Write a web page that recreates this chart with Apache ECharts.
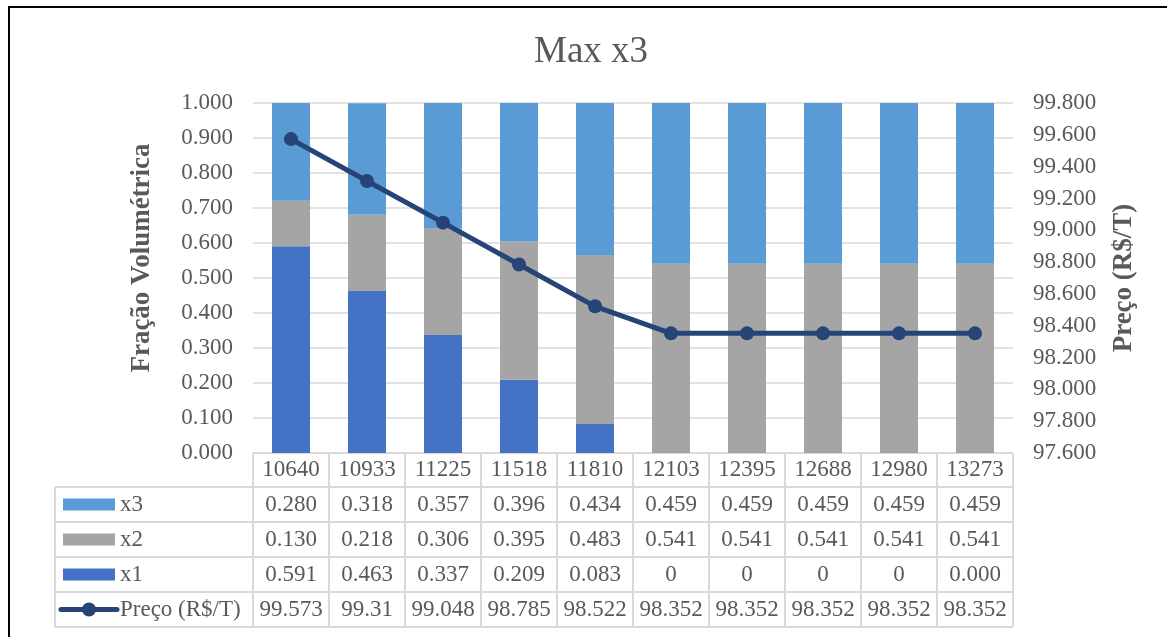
<!DOCTYPE html>
<html>
<head>
    <meta charset="utf-8">
    <title>Max x3</title>
    <script src="https://cdn.jsdelivr.net/npm/echarts@6/dist/echarts.min.js"></script>
    <style>
        html, body { margin: 0; padding: 0; background: #fff; }
        #main { width: 1167px; height: 637px; }
    </style>
</head>
<body>
<div id="main"></div>
<script type="text/javascript">
    // dados
    var categorias = ['10640', '10933', '11225', '11518', '11810', '12103', '12395', '12688', '12980', '13273'];
    var x1 = [0.591, 0.463, 0.337, 0.209, 0.083, 0, 0, 0, 0, 0];
    var x2 = [0.130, 0.218, 0.306, 0.395, 0.483, 0.541, 0.541, 0.541, 0.541, 0.541];
    var x3 = [0.280, 0.318, 0.357, 0.396, 0.434, 0.459, 0.459, 0.459, 0.459, 0.459];
    var preco = [99.573, 99.31, 99.048, 98.785, 98.522, 98.352, 98.352, 98.352, 98.352, 98.352];
    // textos da tabela como aparecem no Excel
    var x1Texto = ['0.591', '0.463', '0.337', '0.209', '0.083', '0', '0', '0', '0', '0.000'];

    var cores = { x1: '#4472C4', x2: '#A5A5A5', x3: '#5B9BD5', preco: '#264478' };
    var fonte = '"Liberation Serif", "Times New Roman", serif';
    var cinzaTexto = '#595959';
    var cinzaLinha = '#D9D9D9';

    var myChart = echarts.init(document.getElementById('main'));

    var gridLeft = 253, gridTop = 103, gridW = 760, gridH = 350;

    var option = {
        animation: false,
        title: {
            text: 'Max x3',
            left: 529,
            top: 29,
            textStyle: { fontFamily: fonte, fontSize: 37, fontWeight: 'normal', color: cinzaTexto }
        },
        grid: { left: gridLeft, top: gridTop, width: gridW, height: gridH },
        xAxis: {
            type: 'category',
            data: categorias,
            axisLabel: { show: false },
            axisTick: { show: false },
            axisLine: { show: false }
        },
        yAxis: [{
            type: 'value',
            min: 0,
            max: 1,
            interval: 0.1,
            axisLabel: {
                margin: 20,
                fontFamily: fonte, fontSize: 23, color: cinzaTexto,
                formatter: function (v) { return v.toFixed(3); }
            },
            axisLine: { show: false },
            axisTick: { show: false },
            splitLine: { lineStyle: { color: cinzaLinha, width: 1.5 } }
        }, {
            type: 'value',
            min: 97.6,
            max: 99.8,
            interval: 0.2,
            name: 'Preço (R$/T)',
            nameLocation: 'middle',
            nameGap: 98,
            nameTextStyle: { fontFamily: fonte, fontSize: 27, fontWeight: 'bold', color: cinzaTexto },
            axisLabel: {
                margin: 20,
                fontFamily: fonte, fontSize: 23, color: cinzaTexto,
                formatter: function (v) { return v.toFixed(3); }
            },
            axisLine: { show: false },
            axisTick: { show: false },
            splitLine: { show: false }
        }],
        series: [
            { name: 'x1', type: 'bar', stack: 'f', barWidth: '50%', data: x1, itemStyle: { color: cores.x1 } },
            { name: 'x2', type: 'bar', stack: 'f', barWidth: '50%', data: x2, itemStyle: { color: cores.x2 } },
            { name: 'x3', type: 'bar', stack: 'f', barWidth: '50%', data: x3, itemStyle: { color: cores.x3 } },
            {
                name: 'Preço (R$/T)', type: 'line', yAxisIndex: 1, data: preco,
                symbol: 'circle', symbolSize: 14, z: 5,
                lineStyle: { color: cores.preco, width: 5 },
                itemStyle: { color: cores.preco }
            }
        ]
    };
    myChart.setOption(option);

    // tabela de dados (estilo Excel) desenhada abaixo do gráfico
    function montarTabela() {
        var g = [];
        var linhaH = 35;
        var celW = gridW / categorias.length;
        var topoCab = gridTop + gridH;          // linha do cabeçalho
        var topoLinhas = topoCab + 34;          // primeira linha de dados
        var esq = 55;
        var dir = gridLeft + gridW;
        var linhas = [
            { nome: 'x3', textos: x3.map(function (v) { return v.toFixed(3); }), chave: 'rect', cor: cores.x3 },
            { nome: 'x2', textos: x2.map(function (v) { return v.toFixed(3); }), chave: 'rect', cor: cores.x2 },
            { nome: 'x1', textos: x1Texto, chave: 'rect', cor: cores.x1 },
            { nome: 'Preço (R$/T)', textos: preco.map(function (v) { return String(v); }), chave: 'line', cor: cores.preco }
        ];
        var fundo = topoLinhas + linhaH * linhas.length;
        var estiloLinha = { stroke: cinzaLinha, lineWidth: 2 };

        // linhas horizontais
        g.push({ type: 'line', shape: { x1: gridLeft, y1: topoCab, x2: dir, y2: topoCab }, style: estiloLinha, silent: true });
        for (var r = 0; r <= linhas.length; r++) {
            var y = topoLinhas + r * linhaH;
            g.push({ type: 'line', shape: { x1: esq, y1: y, x2: dir, y2: y }, style: estiloLinha, silent: true });
        }
        // linhas verticais
        g.push({ type: 'line', shape: { x1: esq, y1: topoLinhas, x2: esq, y2: fundo }, style: estiloLinha, silent: true });
        for (var c = 0; c <= categorias.length; c++) {
            var x = gridLeft + c * celW;
            g.push({ type: 'line', shape: { x1: x, y1: topoCab, x2: x, y2: fundo }, style: estiloLinha, silent: true });
        }
        var estiloTexto = function (txt, x, y, align) {
            return {
                type: 'text', silent: true,
                style: {
                    text: txt, x: x, y: y, align: align || 'center', verticalAlign: 'middle',
                    fill: cinzaTexto, font: '23px ' + fonte
                }
            };
        };
        // cabeçalho com categorias
        categorias.forEach(function (cat, i) {
            var cx = myChart.convertToPixel({ xAxisIndex: 0 }, i);
            g.push(estiloTexto(cat, cx, topoCab + 17));
        });
        // linhas de dados
        linhas.forEach(function (ln, r) {
            var cy = topoLinhas + r * linhaH + linhaH / 2;
            if (ln.chave === 'rect') {
                g.push({ type: 'rect', silent: true, shape: { x: 63, y: cy - 6, width: 52, height: 12 }, style: { fill: ln.cor } });
            } else {
                g.push({ type: 'line', silent: true, shape: { x1: 61, y1: cy, x2: 117, y2: cy }, style: { stroke: ln.cor, lineWidth: 5, lineCap: 'round' } });
                g.push({ type: 'circle', silent: true, shape: { cx: 89, cy: cy, r: 7 }, style: { fill: ln.cor } });
            }
            g.push(estiloTexto(ln.nome, 120, cy, 'left'));
            ln.textos.forEach(function (t, i) {
                var cx = myChart.convertToPixel({ xAxisIndex: 0 }, i);
                g.push(estiloTexto(t, cx, cy));
            });
        });
        // título do eixo esquerdo (no Excel fica um pouco acima do centro)
        g.push({
            type: 'text', silent: true, x: 142, y: 258, rotation: Math.PI / 2,
            style: {
                text: 'Fração Volumétrica', align: 'center', verticalAlign: 'middle',
                fill: cinzaTexto, font: 'bold 27px ' + fonte
            }
        });
        // borda do gráfico
        g.push({ type: 'rect', silent: true, shape: { x: 9, y: 7, width: 1200, height: 700 }, style: { fill: 'none', stroke: '#000', lineWidth: 2 } });
        myChart.setOption({ graphic: g });
    }
    montarTabela();
</script>
</body>
</html>
